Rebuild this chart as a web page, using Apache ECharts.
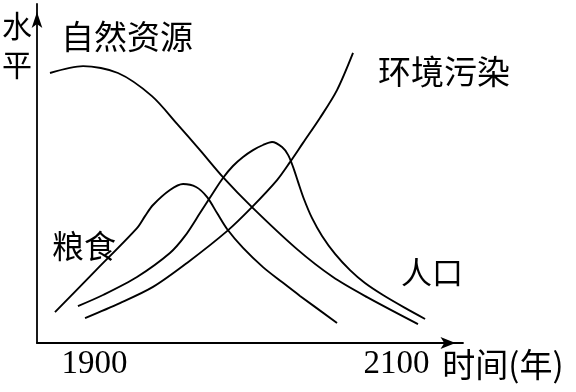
<!DOCTYPE html>
<html>
<head>
<meta charset="utf-8">
<script src="https://cdn.jsdelivr.net/npm/echarts@6/dist/echarts.min.js"></script>
<style>
html,body{margin:0;padding:0;background:#fff;}
#c{width:576px;height:392px;}
</style>
</head>
<body>
<div id="c"></div>
<script>
// x: year, y: level (schematic)
const tickYears = [1900, 2100];
const natResources = [[1870.6,90],[1892.5,92.3],[1915.6,90],[1938.1,82.3],[1955.3,72.7],[1969.9,64.3],[1985.1,55.3],[2004.3,45.3],[2034.1,31.3],[2057.9,22],[2080.5,15.3],[2114.2,6.3]];
const food = [[1873.9,10.3],[1901.1,24.3],[1928.2,38.3],[1933.5,42.3],[1938.8,46],[1950,51],[1958.7,53],[1967.3,52],[1974.5,48.7],[1981.2,43.3],[1987.8,38],[1998.4,31.7],[2011.6,25.3],[2024.2,20.3],[2036.1,15.7],[2060.6,6.7]];
const population = [[1889.1,12.3],[1905.7,16],[1928.2,22],[1950,30],[1960,35.7],[1969.9,43.3],[1978.5,50],[1985.1,55],[1991.7,59],[1998.4,62],[2005,64.3],[2011.6,66],[2017.6,67],[2024.2,65.3],[2028.2,62.7],[2031.5,58.7],[2034.8,53.7],[2038.7,48],[2044,41.7],[2050.7,35.7],[2059.3,29.7],[2069.2,24.3],[2079.1,20],[2091,16],[2105.6,11.7],[2118.9,8]];
const pollution = [[1893.8,8.3],[1916.9,13.3],[1938.8,18.7],[1961.3,26.7],[1987.8,37.3],[2004.3,45.3],[2020.9,54.3],[2029.5,60.3],[2038.1,66.7],[2049.3,75],[2060.6,84.3],[2071.2,96.7]];

const cjk = '"Noto Sans CJK SC", sans-serif';
const serif = '"Liberation Serif", serif';
const lineSeries = (name, data) => ({
  name, type: 'line', data, smooth: 0.3, symbol: 'none',
  lineStyle: {color: '#000', width: 1.9}, silent: true
});
const txt = (s, x, y, size) => ({type: 'text', x, y, style: {text: s, font: size + 'px ' + cjk, fill: '#000', align: 'center', verticalAlign: 'middle'}});
const chart = echarts.init(document.getElementById('c'));
chart.setOption({
  animation: false,
  backgroundColor: '#fff',
  grid: {left: 37, right: 113, top: 4, bottom: 49},
  xAxis: {
    type: 'value', min: 1862, max: 2144,
    splitLine: {show: false},
    axisTick: {show: false},
    axisLine: {lineStyle: {color: '#000', width: 1.8}, symbol: ['none', 'arrow'], symbolSize: [9, 15], symbolOffset: [0, -7.5]},
    axisLabel: {customValues: tickYears, formatter: v => String(v), color: '#000', fontFamily: serif, fontSize: 33, margin: 5}
  },
  yAxis: {
    type: 'value', min: 0, max: 113,
    splitLine: {show: false},
    axisTick: {show: false},
    axisLabel: {show: false},
    axisLine: {lineStyle: {color: '#000', width: 1.8}, symbol: ['none', 'arrow'], symbolSize: [8, 16], symbolOffset: [0, -8]}
  },
  series: [
    lineSeries('自然资源', natResources),
    lineSeries('粮食', food),
    lineSeries('人口', population),
    lineSeries('环境污染', pollution)
  ],
  graphic: [
    txt('水', 17, 26, 30),
    txt('平', 17, 65, 30),
    txt('自然资源', 127, 36, 33),
    txt('环境污染', 444, 71, 33),
    txt('粮食', 84, 246, 32),
    txt('人口', 432, 272, 31),
    txt('时间(年)', 503, 364, 33)
  ]
});
</script>
</body>
</html>
